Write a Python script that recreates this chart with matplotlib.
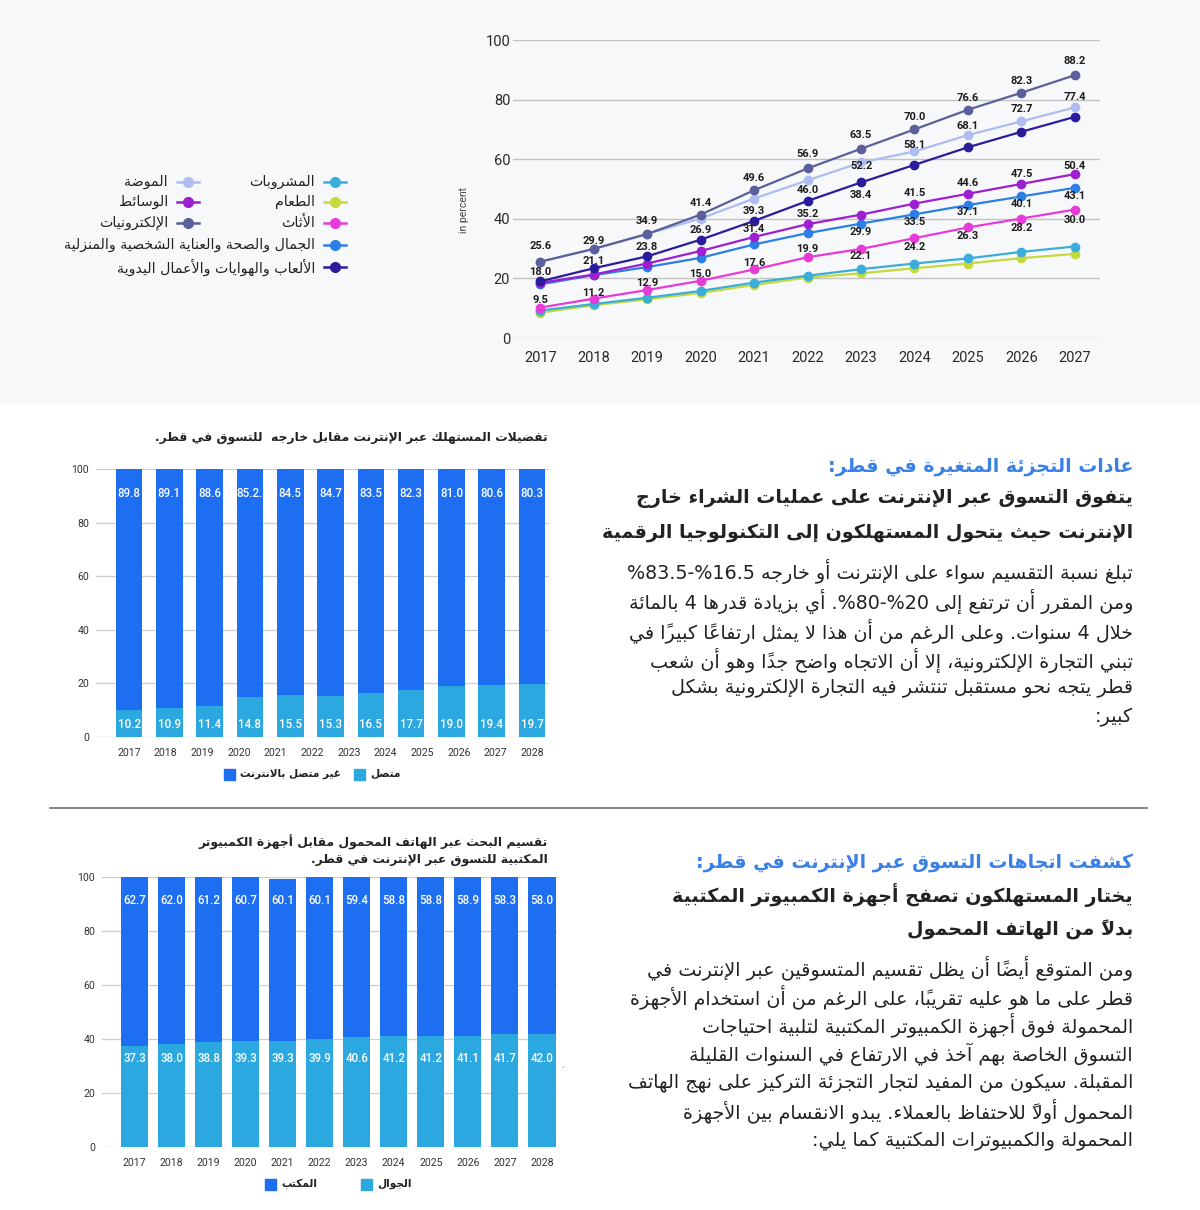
import re

import matplotlib
matplotlib.use("Agg")
import matplotlib.pyplot as plt
import numpy as np
from matplotlib.lines import Line2D
from matplotlib.patches import Rectangle

W, H = 1200, 1210
AR = "DejaVu Sans"          # has the Arabic presentation forms
NUM = "Roboto"
INK = "#222222"
BLUE_HEAD = "#3a80e6"
DARK = "#1e6ef2"
LIGHT = "#2ca8e1"

# ---------------- line chart: online share by category ----------------
years = list(range(2017, 2028))
beverages = [9.2, 11.4, 13.5, 15.8, 18.6, 20.9, 23.1, 25.0, 26.7, 28.9, 30.7]
food = [8.5, 11.0, 13.0, 15.1, 17.8, 20.3, 21.7, 23.4, 25.0, 26.8, 28.2]
furniture = [10.2, 13.2, 16.1, 19.2, 23.0, 27.1, 29.9, 33.5, 37.1, 40.1, 43.1]
beauty = [18.0, 21.1, 23.8, 26.9, 31.4, 35.2, 38.4, 41.5, 44.6, 47.5, 50.4]
toys = [19.0, 23.4, 27.4, 33.0, 39.3, 46.0, 52.2, 58.1, 64.0, 69.2, 74.2]
media = [18.5, 21.3, 25.0, 29.2, 33.9, 38.2, 41.4, 45.1, 48.4, 51.7, 55.0]
fashion = [25.6, 29.9, 34.9, 40.1, 46.8, 52.9, 58.9, 62.6, 68.1, 72.7, 77.4]
electronics = [25.6, 29.9, 34.9, 41.4, 49.6, 56.9, 63.5, 70.0, 76.6, 82.3, 88.2]

# printed labels of the bottom row (sit over the beverages line)
bottom_labels = ["9.5", "11.2", "12.9", "15.0", "17.6", "19.9",
                 "22.1", "24.2", "26.3", "28.2", "30.0"]

cat_names = {
    "beverages": "المشروبات", "food": "الطعام", "furniture": "الأثاث",
    "beauty": "الجمال والصحة والعناية الشخصية والمنزلية",
    "toys": "الألعاب والهوايات والأعمال اليدوية",
    "fashion": "الموضة", "media": "الوسائط", "electronics": "الإلكترونيات",
}
cat_colors = {
    "beverages": "#3aaed8", "food": "#c6d93c", "furniture": "#e63bd8",
    "beauty": "#2c7fe6", "toys": "#2a1c9b", "media": "#9d1fd0",
    "fashion": "#aebcf2", "electronics": "#5b5f9c",
}

# ---------------- stacked bars ----------------
# chart 1 has 11 bars under 12 year labels, as in the source
bar_years = list(range(2017, 2029))
online = [10.2, 10.9, 11.4, 14.8, 15.5, 15.3, 16.5, 17.7, 19.0, 19.4, 19.7]
offline = [89.8, 89.1, 88.6, 85.2, 84.5, 84.7, 83.5, 82.3, 81.0, 80.6, 80.3]
mobile = [37.3, 38.0, 38.8, 39.3, 39.3, 39.9, 40.6, 41.2, 41.2, 41.1, 41.7, 42.0]
desktop = [62.7, 62.0, 61.2, 60.7, 60.1, 60.1, 59.4, 58.8, 58.8, 58.9, 58.3, 58.0]

# ---------------- text ----------------
title1 = "تفضيلات المستهلك عبر الإنترنت مقابل خارجه  للتسوق في قطر."
title2 = ["تقسيم البحث عبر الهاتف المحمول مقابل أجهزة الكمبيوتر",
          "المكتبية للتسوق عبر الإنترنت في قطر."]
sec1_head = "عادات التجزئة المتغيرة في قطر:"
sec1_bold = ["يتفوق التسوق عبر الإنترنت على عمليات الشراء خارج",
             "الإنترنت حيث يتحول المستهلكون إلى التكنولوجيا الرقمية"]
sec1_body = [
    "تبلغ نسبة التقسيم سواء على الإنترنت أو خارجه %16.5-%83.5",
    "ومن المقرر أن ترتفع إلى %20-%80. أي بزيادة قدرها 4 بالمائة",
    "خلال 4 سنوات. وعلى الرغم من أن هذا لا يمثل ارتفاعًا كبيرًا في",
    "تبني التجارة الإلكترونية، إلا أن الاتجاه واضح جدًا وهو أن شعب",
    "قطر يتجه نحو مستقبل تنتشر فيه التجارة الإلكترونية بشكل",
    "كبير:",
]
sec2_head = "كشفت اتجاهات التسوق عبر الإنترنت في قطر:"
sec2_bold = ["يختار المستهلكون تصفح أجهزة الكمبيوتر المكتبية",
             "بدلاً من الهاتف المحمول"]
sec2_body = [
    "ومن المتوقع أيضًا أن يظل تقسيم المتسوقين عبر الإنترنت في",
    "قطر على ما هو عليه تقريبًا، على الرغم من أن استخدام الأجهزة",
    "المحمولة فوق أجهزة الكمبيوتر المكتبية لتلبية احتياجات",
    "التسوق الخاصة بهم آخذ في الارتفاع في السنوات القليلة",
    "المقبلة. سيكون من المفيد لتجار التجزئة التركيز على نهج الهاتف",
    "المحمول أولاً للاحتفاظ بالعملاء. يبدو الانقسام بين الأجهزة",
    "المحمولة والكمبيوترات المكتبية كما يلي:",
]

# ---------------- minimal Arabic shaping + bidi ----------------
# matplotlib has no complex text layout, so map letters to their joined
# presentation forms and lay the line out right-to-left by hand.
_RJ = {"آ": 0xFE81, "أ": 0xFE83, "ؤ": 0xFE85, "إ": 0xFE87, "ا": 0xFE8D,
       "ة": 0xFE93, "د": 0xFEA9, "ذ": 0xFEAB, "ر": 0xFEAD, "ز": 0xFEAF,
       "و": 0xFEED, "ى": 0xFEEF}
_DJ = {"ئ": 0xFE89, "ب": 0xFE8F, "ت": 0xFE95, "ث": 0xFE99, "ج": 0xFE9D,
       "ح": 0xFEA1, "خ": 0xFEA5, "س": 0xFEB1, "ش": 0xFEB5, "ص": 0xFEB9,
       "ض": 0xFEBD, "ط": 0xFEC1, "ظ": 0xFEC5, "ع": 0xFEC9, "غ": 0xFECD,
       "ف": 0xFED1, "ق": 0xFED5, "ك": 0xFED9, "ل": 0xFEDD, "م": 0xFEE1,
       "ن": 0xFEE5, "ه": 0xFEE9, "ي": 0xFEF1}
_LA = {"آ": 0xFEF5, "أ": 0xFEF7, "إ": 0xFEF9, "ا": 0xFEFB}
_MARKS = {chr(c) for c in range(0x064B, 0x0653)}
_NUM_RUN = re.compile(r"(%?\d+(?:\.\d+)?%?)")


def _shape(text):
    cl = []
    for ch in text:
        if ch in _MARKS and cl:
            cl[-1][1] += ch
        else:
            cl.append([ch, ""])
    merged = []
    i = 0
    while i < len(cl):
        ch, mk = cl[i]
        if ch == "ل" and i + 1 < len(cl) and cl[i + 1][0] in _LA:
            merged.append((_LA[cl[i + 1][0]], "R", mk + cl[i + 1][1]))
            i += 2
            continue
        if ch in _DJ:
            merged.append((_DJ[ch], "D", mk))
        elif ch in _RJ:
            merged.append((_RJ[ch], "R", mk))
        else:
            merged.append((ch, None, mk))
        i += 1
    out = []
    for j, (base, kind, mk) in enumerate(merged):
        if kind is None:
            out.append(mk + base)
            continue
        prev_j = j > 0 and merged[j - 1][1] == "D"
        next_j = kind == "D" and j + 1 < len(merged) and merged[j + 1][1] is not None
        if kind == "R":
            off = 1 if prev_j else 0
        else:
            off = (0, 2, 1, 3)[prev_j * 2 + next_j]
        # zero-width marks draw rightwards, so they go before their letter
        out.append(mk + chr(base + off))
    return out


def ar(text):
    tokens = []
    for k, part in enumerate(_NUM_RUN.split(text)):
        if k % 2:
            tokens.append(part)
        else:
            tokens.extend(_shape(part))
    return "".join(reversed(tokens))


# ---------------- figure ----------------
plt.rcParams["font.family"] = [NUM, "DejaVu Sans"]
fig = plt.figure(figsize=(W / 100, H / 100), dpi=100)
fig.patch.set_facecolor("white")
renderer = fig.canvas.get_renderer()


def fx(x):
    return x / W


def fy(y):
    return 1 - y / H


def axes_px(left, top, right, bottom):
    return fig.add_axes([left / W, 1 - bottom / H, (right - left) / W, (bottom - top) / H])


def fit_size(s, target_px, weight="normal"):
    t = fig.text(0, 0, ar(s), fontsize=20, fontweight=weight, family=AR)
    w = t.get_window_extent(renderer=renderer).width
    t.remove()
    return 20 * target_px / w


def rtext(x, y, s, size, weight="normal", color=INK, ha="right"):
    fig.text(fx(x), fy(y), ar(s), fontsize=size, fontweight=weight, family=AR,
             color=color, ha=ha, va="center")


# top band, behind everything
fig.patches.append(Rectangle((0, fy(402)), 1, 402 / H, transform=fig.transFigure,
                             color="#f7f8fa", zorder=-10))
fig.add_artist(Line2D([fx(50), fx(1147)], [fy(808)] * 2, color="#6e6e6e", lw=1.2))

# ---- line chart ----
ax = axes_px(513, 40, 1100, 338)
ax.set_facecolor("none")
order = ["food", "beverages", "furniture", "beauty", "media", "toys", "fashion", "electronics"]
series = {"beverages": beverages, "food": food, "furniture": furniture, "beauty": beauty,
          "toys": toys, "media": media, "fashion": fashion, "electronics": electronics}
for k in order:
    ax.plot(years, series[k], color=cat_colors[k], lw=1.6, marker="o", ms=6,
            zorder=3, clip_on=False)
ax.set_xlim(2016.49, 2027.47)
ax.set_ylim(0, 100)
ax.set_xticks(years)
ax.set_yticks(range(0, 101, 20))
ax.grid(axis="y", color="#c2c2c2", lw=1)
ax.set_axisbelow(True)
for s in ax.spines.values():
    s.set_visible(False)
ax.tick_params(length=0, labelsize=10.5, labelcolor="#2a2a2a")
ax.tick_params(axis="x", pad=9)
ax.tick_params(axis="y", pad=2)

# printed value labels: (series, year indices, texts, lift in px)
label_groups = [
    (electronics, range(11), [f"{v:.1f}" for v in electronics],
     [16, 8, 13, 12, 12, 14, 14, 12, 12, 12, 14]),
    (beauty, range(11), [f"{v:.1f}" for v in beauty],
     [12, 14, 20, 28, 15, 19, 29, 21, 22, 22, 22]),
    (toys, range(4, 8), [f"{v:.1f}" for v in toys[4:8]], [10, 11, 16, 20]),
    (fashion, range(8, 11), [f"{v:.1f}" for v in fashion[8:]], [9, 12, 10]),
    (furniture, range(6, 11), [f"{v:.1f}" for v in furniture[6:]], [17, 16, 15, 15, 14]),
    (beverages, range(11), bottom_labels, [11, 11, 15, 17, 20, 27, 13, 16, 22, 24, 27]),
]
for vals, idx, texts, lifts in label_groups:
    for i, t, d in zip(idx, texts, lifts):
        ax.annotate(t, (years[i], vals[i]), xytext=(0, d * 0.72), textcoords="offset points",
                    ha="center", va="center", fontsize=8, fontweight="bold",
                    color="#1e1e1e", zorder=5)

fig.text(fx(464), fy(210), "in percent", rotation=90, fontsize=7.5, color="#444",
         ha="center", va="center")

# legend of the line chart (two columns, right to left)
legend_rows = [("beverages", 335, 315, 182), ("food", 335, 315, 202),
               ("furniture", 335, 315, 223), ("beauty", 335, 315, 245),
               ("toys", 335, 315, 267), ("fashion", 188, 168, 182),
               ("media", 188, 168, 202), ("electronics", 188, 168, 223)]
for k, mx, tx, y in legend_rows:
    c = cat_colors[k]
    fig.add_artist(Line2D([fx(mx - 11), fx(mx + 11)], [fy(y)] * 2, color=c, lw=1.8))
    fig.add_artist(Line2D([fx(mx)], [fy(y)], color=c, marker="o", ms=7))
    rtext(tx, y, cat_names[k], 10.2)


# ---- stacked bar charts ----
def bar_chart(ax, low, high, high_txt, low_lift, xlim, width):
    x = np.arange(len(low))
    ax.bar(x, low, width=width, color=LIGHT, zorder=2)
    ax.bar(x, high, bottom=low, width=width, color=DARK, zorder=2)
    ax.set_xlim(*xlim)
    ax.set_ylim(0, 100)
    # year labels spread evenly over the bar span (12 labels in both charts)
    ax.set_xticks(np.linspace(0, len(low) - 1, len(bar_years)), [str(y) for y in bar_years])
    ax.set_yticks(range(0, 101, 20))
    ax.grid(axis="y", color="#cfcfcf", lw=0.9)
    ax.set_axisbelow(True)
    for s in ax.spines.values():
        s.set_visible(False)
    ax.tick_params(length=0, labelsize=7.6, labelcolor="#333")
    ax.tick_params(axis="x", pad=8)
    ax.tick_params(axis="y", pad=5)
    for i in x:
        ax.annotate(high_txt[i], (i, 100), xytext=(0, -24 * 0.72), textcoords="offset points",
                    ha="center", va="center", color="white", fontsize=8.3,
                    fontweight="medium", zorder=4)
        ax.annotate(f"{low[i]:.1f}", (i, 0), xytext=(0, low_lift * 0.72),
                    textcoords="offset points", ha="center", va="center",
                    color="white", fontsize=8.3, fontweight="medium", zorder=4)


offline_txt = [f"{v:.1f}" for v in offline]
offline_txt[3] += "."          # stray dot is in the original
bx1 = axes_px(96, 469, 549, 737)
bar_chart(bx1, online, offline, offline_txt, 12.7, (-0.82, 10.42), 0.66)

bx2 = axes_px(102, 877, 557, 1147)
bar_chart(bx2, mobile, desktop, [f"{v:.1f}" for v in desktop], 88, (-0.88, 11.41), 0.74)
fig.text(fx(562), fy(1066), "،", fontsize=5, color="#777", ha="center", va="center")

# titles
ts = fit_size(title1, 395, "bold")
rtext(548, 437, title1, ts, "bold")
rtext(548, 842, title2[0], ts, "bold")
rtext(548, 860, title2[1], ts, "bold")


# bar legends: square then label
def square_legend(items, y):
    for x0, color, label in items:
        fig.patches.append(Rectangle((fx(x0), fy(y + 5.5)), 11 / W, 11 / H,
                                     transform=fig.transFigure, color=color))
        rtext(x0 + 16, y, label, 7.6, "bold", ha="left")


square_legend([(224, DARK, "غير متصل بالانترنت"), (354, LIGHT, "متصل")], 774)
square_legend([(265, DARK, "المكتب"), (361, LIGHT, "الجوال")], 1184)

# ---- right-hand text blocks ----
head_size = fit_size(sec1_head, 303, "bold")
bold_size = fit_size(sec1_bold[0], 493, "bold")
body_size = fit_size(sec1_body[0], 506)

rtext(1133, 466, sec1_head, head_size, "bold", BLUE_HEAD)
for s, y in zip(sec1_bold, [499, 533]):
    rtext(1133, y, s, bold_size, "bold")
for s, y in zip(sec1_body, [572, 601, 631, 660, 688, 717]):
    rtext(1133, y, s, body_size)

rtext(1133, 862, sec2_head, head_size, "bold", BLUE_HEAD)
for s, y in zip(sec2_bold, [895, 930]):
    rtext(1133, y, s, bold_size, "bold")
for s, y in zip(sec2_body, [968, 997, 1025, 1054, 1083, 1112, 1141]):
    rtext(1133, y, s, body_size)

fig.savefig("out.png", dpi=100)
